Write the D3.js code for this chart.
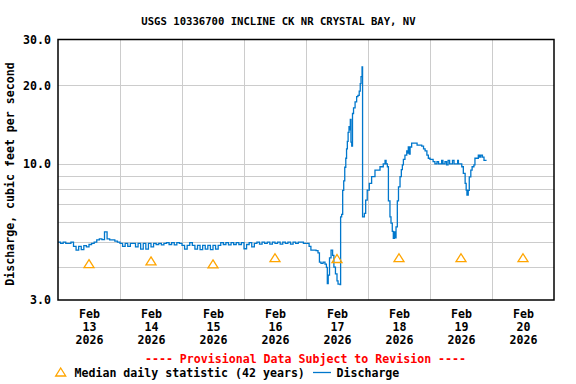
<!DOCTYPE html>
<html>
<head>
<meta charset="utf-8">
<script src="https://cdn.jsdelivr.net/npm/d3@7"></script>
<style>
  body { margin: 0; background: #fff; }
  svg { display: block; }
  text { font-family: "DejaVu Sans Mono", monospace; font-weight: bold; }
</style>
</head>
<body>
<svg id="chart" width="576" height="384"></svg>
<script>
const title = "USGS 10336700 INCLINE CK NR CRYSTAL BAY, NV";
const dayLabels = ["13", "14", "15", "16", "17", "18", "19", "20"];
const yLabelTicks = [3, 10, 20, 30];
const yGridTicks = [4, 5, 6, 7, 8, 9, 10, 20];
// median daily statistic, one per day (plotted at noon)
const medianFlow = [4.12, 4.22, 4.11, 4.34, 4.31, 4.34, 4.34, 4.34];
// hourly discharge from Feb 13 00:00 to Feb 17 00:00
const calmFlow = [
  5.0, 4.95, 5.0, 4.95, 4.95, 5.0, 4.82, 4.66, 4.82, 4.68, 4.85, 4.8,
  4.9, 4.95, 5.0, 5.1, 5.15, 5.12, 5.48, 5.15, 5.1, 5.1, 5.05, 5.0,
  4.95, 4.82, 4.95, 4.82, 4.95, 4.95, 4.8, 4.95, 4.7, 4.95, 4.7, 4.95,
  4.8, 4.95, 4.9, 4.95, 4.88, 4.95, 4.98, 4.9, 4.98, 4.88, 4.98, 4.95,
  4.86, 4.7, 4.86, 4.98, 4.86, 4.7, 4.86, 4.68, 4.86, 4.7, 4.86, 4.68,
  4.86, 4.7, 4.86, 4.98, 4.9, 4.98, 4.88, 4.98, 4.9, 4.98, 4.9, 4.98,
  4.72, 4.9, 4.98, 4.8, 4.95, 5.0, 4.92, 5.0, 4.95, 5.0, 4.92, 5.0,
  4.95, 5.0, 4.92, 5.0, 4.95, 5.0, 4.92, 5.0, 4.95, 5.0, 5.0, 4.95,
  4.95
];
// storm period, hours after Feb 13 00:00
const stormHours = [
  96.4, 97.2, 97.9, 99.1, 99.9, 100.65, 101.2, 101.8, 102.6, 103.35, 103.9, 104.25,
  104.6, 105.1, 105.7, 106.3, 106.8, 107.4, 108.0, 108.4, 109.2, 109.4, 109.8, 110.2,
  110.6, 111.0, 111.4, 111.7, 112.0, 112.3, 112.65, 112.9, 113.15, 113.4, 113.7, 114.0,
  114.4, 115.0, 115.6, 116.1, 116.6, 117.0, 117.3, 117.7, 117.9, 118.6, 119.1, 119.7,
  120.5, 121.4, 122.7, 124.65, 125.9, 126.6, 127.0, 127.5, 127.9, 128.5, 128.9, 129.4,
  129.8, 130.2, 130.45, 130.85, 131.35, 131.8, 132.4, 132.9, 133.3, 133.7, 134.3, 135.0,
  135.5, 135.6, 136.0, 136.3, 136.9, 138.9, 139.0, 140.8, 141.5, 142.1, 142.8, 143.35,
  144.0, 145.2, 145.9, 146.7, 147.3, 147.9, 148.5, 149.0, 149.8, 150.4, 151.0, 151.6,
  152.1, 152.7, 153.3, 154.1, 154.7, 155.0, 155.6, 156.3, 156.9, 157.6, 158.0, 158.3,
  158.8, 159.2, 159.8, 160.3, 161.0, 161.4, 162.1, 162.7, 163.2, 163.7, 164.3, 164.9,
  165.9
];
const stormFlow = [
  4.95, 4.82, 4.66, 4.66, 4.64, 4.55, 4.19, 4.15, 4.19, 4.12, 4.0, 3.47,
  3.74, 4.35, 4.66, 4.45, 4.01, 3.78, 3.55, 3.45, 3.44, 6.26, 6.4, 7.9,
  8.6, 9.7, 10.5, 11.4, 12.2, 13.2, 13.9, 13.5, 14.8, 12.1, 11.7, 15.6,
  16.4, 17.3, 18.1, 18.3, 19.0, 20.3, 21.6, 23.55, 6.26, 6.45, 7.25, 7.93,
  8.41, 8.92, 9.45, 9.74, 10.0, 10.3, 10.0, 9.74, 7.2, 6.26, 5.92, 5.5,
  5.17, 5.48, 5.2, 5.73, 7.2, 8.16, 8.92, 9.5, 9.9, 10.4, 10.8, 11.2,
  11.0, 11.6, 10.9, 11.6, 12.0, 12.0, 11.8, 11.7, 11.4, 11.2, 10.8, 10.5,
  10.4, 10.2, 10.0, 10.2, 10.0, 10.0, 10.3, 10.0, 10.2, 9.9, 10.3, 10.0,
  10.0, 10.3, 10.0, 10.0, 10.3, 10.0, 10.0, 9.74, 9.19, 8.41, 7.93, 7.58,
  7.9, 8.9, 9.45, 9.74, 9.9, 10.5, 10.5, 10.8, 10.6, 10.8, 10.6, 10.3,
  10.3
];

const start = Date.UTC(2026, 1, 13);
const hour = 3600e3;
const at = h => new Date(start + h * hour);

const flow = calmFlow.slice(0, 96).map((v, i) => ({t: at(i), v}))
  .concat(stormHours.map((h, i) => ({t: at(h), v: stormFlow[i]})));
const medians = medianFlow.map((v, i) => ({t: at(i * 24 + 12), v}));

const plotLeft = 58, plotRight = 554, plotTop = 39.5, plotBottom = 300;
const svg = d3.select('#chart');

const x = d3.scaleUtc().domain([at(0), at(8 * 24)]).range([plotLeft, plotRight]);
const y = d3.scaleLog().domain([3, 30]).range([plotBottom, plotTop]);

svg.append('text').attr('x', 278.5).attr('y', 25)
  .attr('text-anchor', 'middle').style('font-size', '10.6px').text(title);

// grid
const grid = svg.append('g').attr('stroke', '#cccccc').attr('stroke-width', 1);
grid.selectAll('.hg').data(yGridTicks).join('line')
  .attr('x1', plotLeft).attr('x2', plotRight)
  .attr('y1', d => Math.round(y(d)) + 0.5).attr('y2', d => Math.round(y(d)) + 0.5);
grid.selectAll('.vg').data(d3.range(1, 8)).join('line')
  .attr('x1', d => Math.round(x(at(d * 24))) + 0.5).attr('x2', d => Math.round(x(at(d * 24))) + 0.5)
  .attr('y1', plotTop).attr('y2', plotBottom);

// y axis labels
const yAxis = svg.append('g').attr('transform', `translate(${plotLeft},0)`)
  .call(d3.axisLeft(y).tickValues(yLabelTicks).tickFormat(d3.format('.1f')).tickSize(0).tickPadding(7));
yAxis.select('.domain').remove();
yAxis.selectAll('text').style('font-size', '11.6px').attr('fill', '#000')
  .style('font-family', '"DejaVu Sans Mono", monospace');

// x axis labels at noon
const xAxis = svg.append('g').attr('transform', `translate(0,${plotBottom})`)
  .call(d3.axisBottom(x).tickValues(medians.map(d => d.t)).tickSize(0).tickFormat(''));
xAxis.select('.domain').remove();
xAxis.selectAll('.tick text').each(function(d, i) {
  const t = d3.select(this).attr('dy', null).attr('y', null)
    .style('font-size', '11.6px').attr('fill', '#000')
    .style('font-family', '"DejaVu Sans Mono", monospace');
  ['Feb', dayLabels[i], '2026'].forEach((s, k) =>
    t.append('tspan').attr('x', 0).attr('y', 18 + k * 13).text(s));
});

// discharge line
const line = d3.line().x(d => x(d.t)).y(d => y(d.v)).curve(d3.curveStepAfter);
svg.append('path').datum(flow).attr('d', line)
  .attr('fill', 'none').attr('stroke', '#0077cc').attr('stroke-width', 1.3);

// median triangles
const tri = 'M0,-4.5L5,3.5L-5,3.5Z';
svg.append('g').selectAll('path').data(medians).join('path')
  .attr('transform', d => `translate(${x(d.t)},${y(d.v)})`)
  .attr('d', tri).attr('fill', 'none').attr('stroke', '#ffa500').attr('stroke-width', 1.3);

// frame
svg.append('rect').attr('x', plotLeft).attr('y', plotTop)
  .attr('width', plotRight - plotLeft).attr('height', plotBottom - plotTop)
  .attr('fill', 'none').attr('stroke', '#000').attr('stroke-width', 1.5);

// y title
svg.append('text').attr('transform', 'translate(14,174) rotate(-90)')
  .attr('text-anchor', 'middle').style('font-size', '11.6px')
  .text('Discharge, cubic feet per second');

// footer
svg.append('text').attr('x', 305.5).attr('y', 363).attr('text-anchor', 'middle')
  .attr('fill', '#ff0000').style('font-size', '11.6px')
  .text('---- Provisional Data Subject to Revision ----');

const legend = svg.append('g');
legend.append('path').attr('transform', 'translate(60.7,372.5)').attr('d', tri)
  .attr('fill', 'none').attr('stroke', '#ffa500').attr('stroke-width', 1.3);
legend.append('text').attr('x', 74.5).attr('y', 377).style('font-size', '11.6px')
  .text('Median daily statistic (42 years)');
legend.append('line').attr('x1', 313).attr('x2', 331).attr('y1', 372.5).attr('y2', 372.5)
  .attr('stroke', '#0077cc').attr('stroke-width', 1.3);
legend.append('text').attr('x', 336.5).attr('y', 377).style('font-size', '11.6px')
  .text('Discharge');
</script>
</body>
</html>
